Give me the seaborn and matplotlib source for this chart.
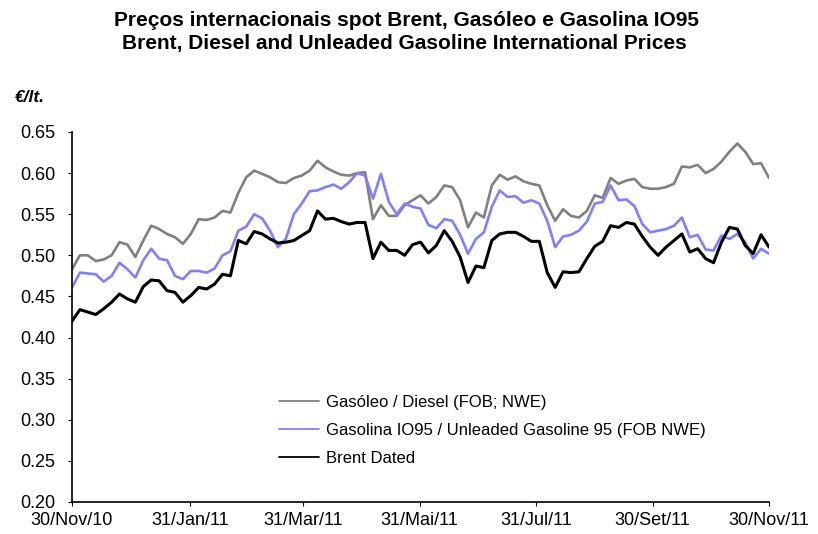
import numpy as np
import pandas as pd
import matplotlib
matplotlib.use("Agg")
import matplotlib.pyplot as plt
from matplotlib.lines import Line2D
import seaborn as sns

# ---- data (€/lt.) ----
start_date = "2010-11-30"
end_date = "2011-11-30"
n_points = 89

diesel = [0.483, 0.500, 0.500, 0.493, 0.495, 0.500, 0.516, 0.513, 0.498, 0.518,
          0.536, 0.532, 0.526, 0.522, 0.514, 0.526, 0.544, 0.543, 0.546, 0.554,
          0.552, 0.576, 0.595, 0.603, 0.599, 0.595, 0.589, 0.588, 0.594, 0.597,
          0.603, 0.615, 0.607, 0.602, 0.598, 0.597, 0.600, 0.601, 0.544, 0.561,
          0.548, 0.548, 0.561, 0.567, 0.573, 0.563, 0.571, 0.585, 0.583, 0.567,
          0.534, 0.552, 0.546, 0.585, 0.598, 0.592, 0.596, 0.590, 0.587, 0.585,
          0.561, 0.542, 0.556, 0.548, 0.546, 0.554, 0.573, 0.570, 0.594, 0.587,
          0.591, 0.593, 0.583, 0.581, 0.581, 0.583, 0.587, 0.608, 0.607, 0.610,
          0.600, 0.605, 0.614, 0.626, 0.636, 0.626, 0.611, 0.612, 0.594]

gasoline = [0.461, 0.479, 0.478, 0.477, 0.468, 0.475, 0.491, 0.483, 0.473, 0.494,
            0.508, 0.496, 0.494, 0.475, 0.471, 0.481, 0.481, 0.479, 0.484, 0.500,
            0.505, 0.530, 0.535, 0.550, 0.545, 0.530, 0.510, 0.520, 0.550, 0.563,
            0.578, 0.579, 0.583, 0.586, 0.581, 0.589, 0.600, 0.597, 0.569, 0.599,
            0.565, 0.550, 0.563, 0.559, 0.557, 0.537, 0.533, 0.544, 0.542, 0.525,
            0.502, 0.520, 0.528, 0.559, 0.579, 0.571, 0.572, 0.564, 0.567, 0.563,
            0.542, 0.510, 0.523, 0.525, 0.530, 0.541, 0.563, 0.565, 0.585, 0.567,
            0.568, 0.560, 0.538, 0.528, 0.530, 0.532, 0.536, 0.546, 0.522, 0.525,
            0.507, 0.506, 0.524, 0.520, 0.526, 0.516, 0.496, 0.508, 0.502]

brent = [0.420, 0.434, 0.431, 0.428, 0.435, 0.443, 0.453, 0.447, 0.443, 0.462,
         0.470, 0.469, 0.457, 0.455, 0.443, 0.451, 0.461, 0.459, 0.465, 0.477,
         0.475, 0.518, 0.514, 0.529, 0.526, 0.520, 0.515, 0.516, 0.518, 0.524,
         0.530, 0.554, 0.544, 0.545, 0.541, 0.538, 0.540, 0.540, 0.496, 0.516,
         0.506, 0.506, 0.500, 0.513, 0.516, 0.503, 0.512, 0.530, 0.517, 0.498,
         0.467, 0.487, 0.485, 0.518, 0.526, 0.528, 0.528, 0.523, 0.517, 0.517,
         0.479, 0.461, 0.480, 0.479, 0.480, 0.496, 0.511, 0.517, 0.536, 0.534,
         0.540, 0.538, 0.523, 0.510, 0.500, 0.510, 0.518, 0.526, 0.504, 0.508,
         0.496, 0.491, 0.516, 0.534, 0.532, 0.512, 0.502, 0.525, 0.510]

series_names = ["Gasóleo / Diesel (FOB; NWE)",
                "Gasolina IO95 / Unleaded Gasoline 95 (FOB NWE)",
                "Brent Dated"]
series_colors = ["#808080", "#8080FF", "#000000"]

tick_dates = ["2010-11-30", "2011-01-31", "2011-03-31", "2011-05-31",
              "2011-07-31", "2011-09-30", "2011-11-30"]
tick_labels = ["30/Nov/10", "31/Jan/11", "31/Mar/11", "31/Mai/11",
               "31/Jul/11", "30/Set/11", "30/Nov/11"]
y_ticks = [0.20, 0.25, 0.30, 0.35, 0.40, 0.45, 0.50, 0.55, 0.60, 0.65]

title_pt = "Preços internacionais spot Brent, Gasóleo e Gasolina IO95"
title_en = "Brent, Diesel and Unleaded Gasoline International Prices"
unit_label = "€/lt."

# ---- build table ----
dates = pd.date_range(start_date, end_date, periods=n_points)
df = pd.concat([
    pd.DataFrame({"date": dates, "value": vals, "series": name})
    for name, vals in zip(series_names, [diesel, gasoline, brent])
], ignore_index=True)

# ---- plot ----
sns.set_theme(style="white")
plt.rcParams["font.family"] = ["Liberation Sans", "DejaVu Sans"]
plt.rcParams["text.color"] = "black"
plt.rcParams["axes.labelcolor"] = "black"
plt.rcParams["xtick.color"] = "black"
plt.rcParams["ytick.color"] = "black"

fig = plt.figure(figsize=(8.18, 5.34), dpi=100)
ax = fig.add_axes([72 / 818, 1 - 502 / 534, (769 - 72) / 818, (502 - 132) / 534])

sns.lineplot(data=df, x="date", y="value", hue="series",
             hue_order=series_names, palette=series_colors,
             linewidth=1.9, ax=ax, legend=False)
ax.lines[2].set_linewidth(2.2)

ax.set_xlim(pd.Timestamp(start_date), pd.Timestamp(end_date))
ax.set_ylim(0.20, 0.65)
ax.set_yticks(y_ticks)
ax.set_yticklabels([f"{v:.2f}" for v in y_ticks])
ax.set_xticks([pd.Timestamp(d) for d in tick_dates])
ax.set_xticklabels(tick_labels)
ax.set_xlabel("")
ax.set_ylabel("")

for s in ["top", "right"]:
    ax.spines[s].set_visible(False)
for s in ["left", "bottom"]:
    ax.spines[s].set_color("black")
    ax.spines[s].set_linewidth(1.2)
ax.tick_params(axis="both", which="major", direction="out", length=3,
               width=0.8, color="black", labelsize=13, labelcolor="black",
               left=True, bottom=True)
ax.tick_params(axis="y", pad=9)
ax.tick_params(axis="x", pad=4)

handles = [Line2D([0], [0], color=c, lw=1.3) for c in series_colors]
ax.legend(handles, series_names, loc="upper left",
          bbox_to_anchor=((272 - 72) / 697, (502 - 388) / 370),
          frameon=False, fontsize=12, handlelength=2.45, handletextpad=0.4,
          labelspacing=0.78, borderaxespad=0)

fig.text(406 / 818, 1 - 20 / 534, title_pt, ha="center", va="center",
         fontsize=15, fontweight="bold")
fig.text(404 / 818, 1 - 44 / 534, title_en, ha="center", va="center",
         fontsize=15, fontweight="bold")
fig.text(15 / 818, 1 - 97 / 534, unit_label, ha="left", va="center",
         fontsize=12.5, fontweight="bold", fontstyle="italic")

fig.savefig("out.png", dpi=100)
